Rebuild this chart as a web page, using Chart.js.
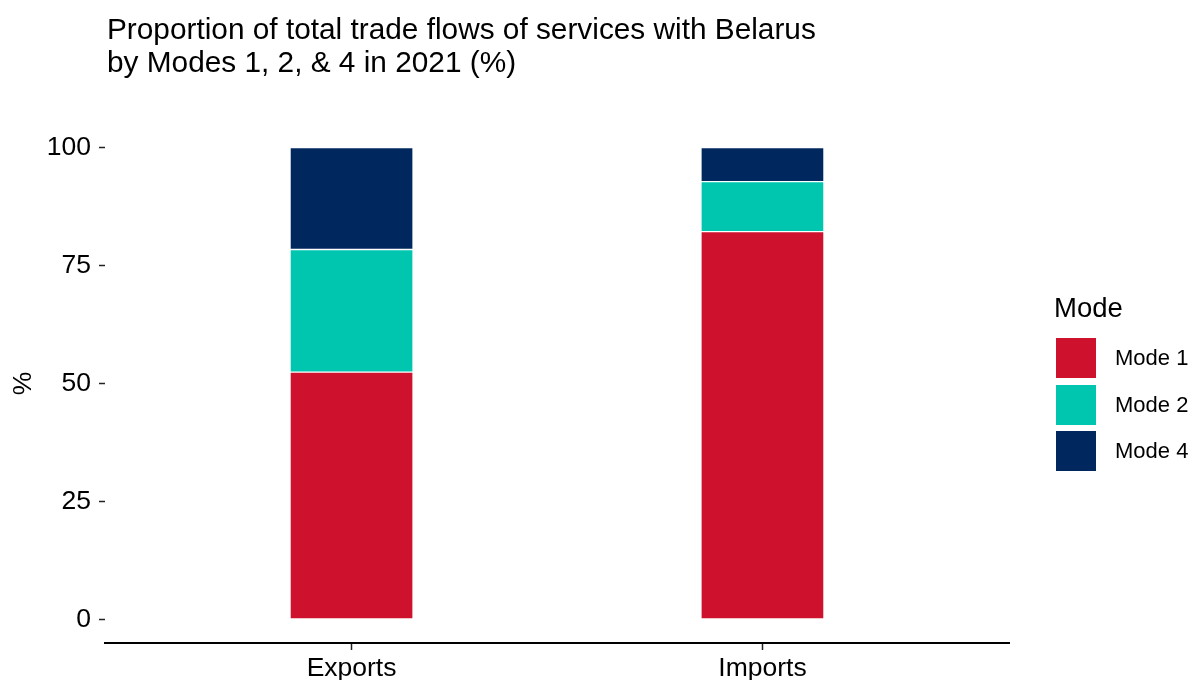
<!DOCTYPE html>
<html lang="en">
<head>
  <meta charset="UTF-8" />
  <title>Trade flows of services with Belarus by mode</title>
  <script src="https://cdn.jsdelivr.net/npm/chart.js"></script>
  <style>
    body {
      margin: 0;
      background: #fff;
      font-family: "Liberation Sans", Arial, sans-serif;
      color: #000;
    }
    .wrap {
      position: relative;
      width: 1195px;
      height: 680px;
      overflow: hidden;
    }
    .title {
      position: absolute;
      left: 107px;
      top: 13px;
      font-size: 29.8px;
      line-height: 32.5px;
    }
    .legend {
      position: absolute;
      left: 1054px;
      top: 294px;
    }
    .legend-title {
      font-size: 27.5px;
      line-height: 27px;
      margin-bottom: 17px;
    }
    .legend-item {
      display: flex;
      align-items: center;
      height: 40px;
      margin-bottom: 6.5px;
      font-size: 22px;
    }
    .swatch {
      width: 40px;
      height: 40px;
      margin-left: 2px;
      margin-right: 19px;
    }
  </style>
</head>
<body>
  <div class="wrap">
    <canvas id="modeChart" width="1195" height="680"></canvas>
    <div class="title">Proportion of total trade flows of services with Belarus<br>by Modes 1, 2, &amp; 4 in 2021 (%)</div>
    <div class="legend" id="legend"></div>
  </div>

  <script>
    // values (% of each flow)
    const categories = ['Exports', 'Imports'];
    const modes = ['Mode 1', 'Mode 2', 'Mode 4'];
    const mode1 = [52.4, 82.2];
    const mode2 = [26.0, 10.6];
    const mode4 = [21.6, 7.2];
    const yTicks = [0, 25, 50, 75, 100];

    const modeColors = ['#CE112D', '#00C6B0', '#00285E'];
    const series = [mode1, mode2, mode4];

    // legend on the right, built from the same arrays
    const legend = document.getElementById('legend');
    legend.innerHTML = '<div class="legend-title">Mode</div>' +
      modes.map((m, i) =>
        '<div class="legend-item"><div class="swatch" style="background:' + modeColors[i] + '"></div>' + m + '</div>'
      ).join('');

    const tickFont = { family: '"Liberation Sans", Arial, sans-serif', size: 26.5 };

    const ctx = document.getElementById('modeChart').getContext('2d');
    const modeChart = new Chart(ctx, {
      type: 'bar',
      data: {
        datasets: series.map((vals, i) => ({
          label: modes[i],
          data: vals.map((v, j) => ({ x: j + 1, y: v })),
          backgroundColor: modeColors[i],
          borderColor: '#ffffff',
          borderWidth: 1,
          borderSkipped: false,
          barThickness: 123
        }))
      },
      options: {
        responsive: false,
        animation: false,
        layout: { padding: { top: 124, right: 186, bottom: 0, left: 0 } },
        plugins: {
          legend: { display: false },
          title: { display: false },
          tooltip: { enabled: false }
        },
        scales: {
          x: {
            type: 'linear',
            stacked: true,
            offset: false,
            min: 0.4,
            max: 2.6,
            afterBuildTicks: (scale) => {
              scale.ticks = categories.map((c, i) => ({ value: i + 1 }));
            },
            afterFit: (scale) => { scale.height = 37; },
            border: { display: true, color: '#000', width: 2 },
            grid: { offset: false, drawOnChartArea: false, drawTicks: true, tickLength: 7, tickColor: '#222', tickWidth: 1.5 },
            ticks: {
              color: '#000',
              font: tickFont,
              padding: 3,
              maxRotation: 0,
              autoSkip: false,
              callback: (v) => categories[v - 1]
            }
          },
          y: {
            stacked: true,
            min: -5,
            max: 105,
            afterBuildTicks: (scale) => {
              scale.ticks = yTicks.map(v => ({ value: v }));
            },
            afterFit: (scale) => { scale.width = 105; },
            border: { display: false },
            grid: { drawOnChartArea: false, drawTicks: true, tickLength: 6, tickColor: '#222', tickWidth: 1.5 },
            ticks: { color: '#000', font: tickFont, padding: 8 },
            title: {
              display: true,
              text: '%',
              color: '#000',
              font: { family: '"Liberation Sans", Arial, sans-serif', size: 26.5 },
              padding: { top: 8, bottom: 0 }
            }
          }
        }
      }
    });
  </script>
</body>
</html>
